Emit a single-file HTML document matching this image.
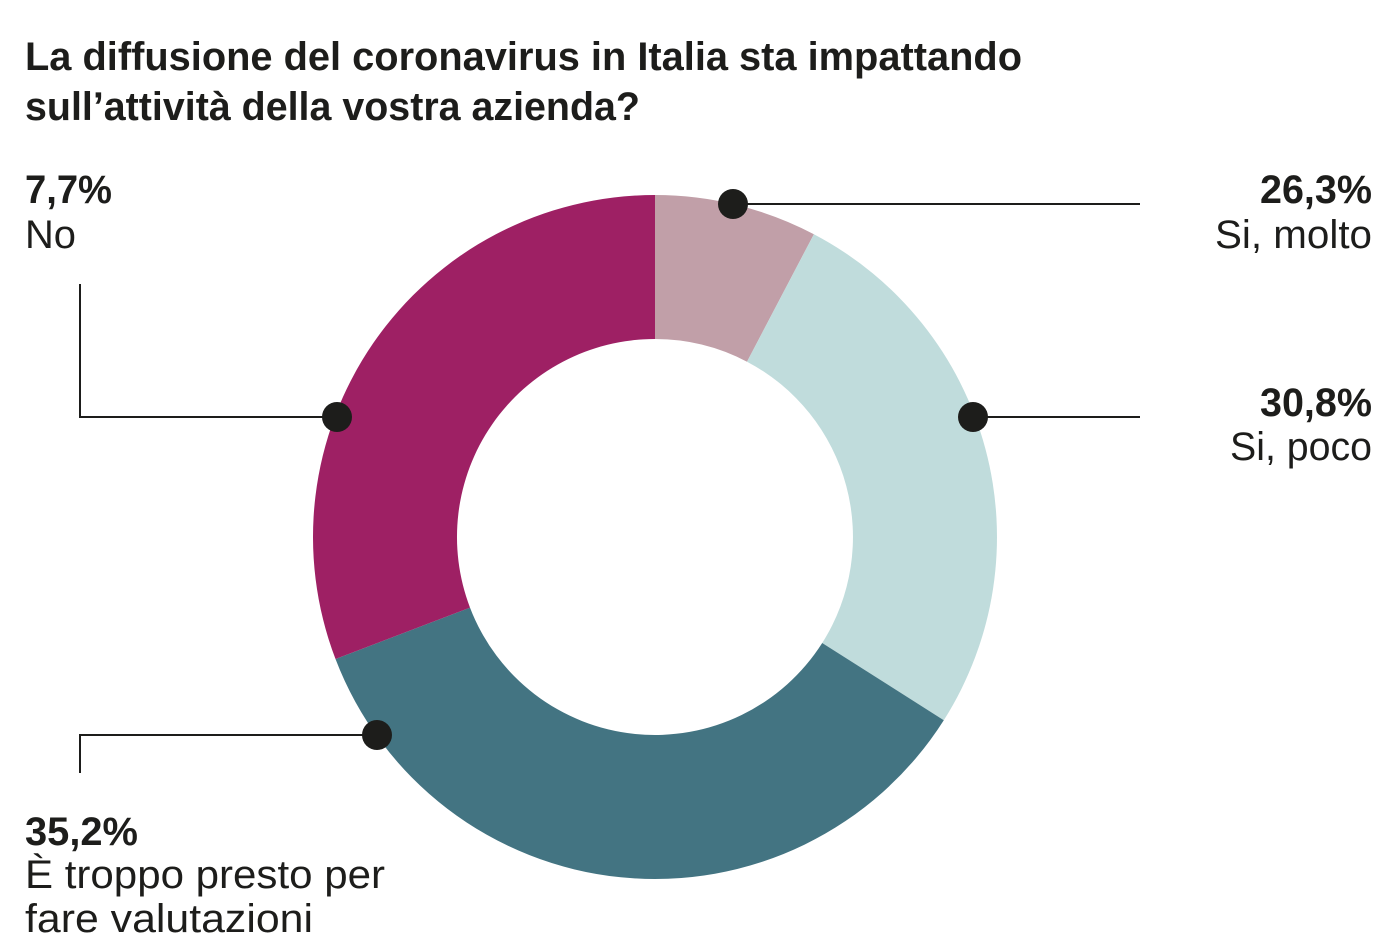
<!DOCTYPE html>
<html><head><meta charset="utf-8"><style>html,body{margin:0;padding:0;background:#fff}svg{display:block}</style></head>
<body>
<svg width="1400" height="950" viewBox="0 0 1400 950" xmlns="http://www.w3.org/2000/svg" font-family="'Liberation Sans Narrow','Liberation Sans',sans-serif" fill="#1d1d1b">
<rect width="1400" height="950" fill="#fff"/>
<text x="25" y="70" font-size="40" font-weight="bold" textLength="997" lengthAdjust="spacingAndGlyphs">La diffusione del coronavirus in Italia sta impattando</text>
<text x="25" y="120" font-size="40" font-weight="bold" textLength="615" lengthAdjust="spacingAndGlyphs">sull’attività della vostra azienda?</text>
<g transform="translate(655,537)">
<path d="M0,-342 A342,342 0 0 1 158.9,-302.8 L92,-175.3 A198,198 0 0 0 0,-198 Z" fill="#c19fa8"/>
<path d="M158.9,-302.8 A342,342 0 0 1 288.8,183.2 L167.2,106 A198,198 0 0 0 92,-175.3 Z" fill="#c0dcdc"/>
<path d="M288.8,183.2 A342,342 0 0 1 -319.5,122 L-185,70.6 A198,198 0 0 0 167.2,106 Z" fill="#437482"/>
<path d="M-319.5,122 A342,342 0 0 1 0,-342 L0,-198 A198,198 0 0 0 -185,70.6 Z" fill="#9e2064"/>
</g>
<g stroke="#1d1d1b" stroke-width="2" fill="none">
<path d="M733,204 H1140"/><path d="M973,417 H1140"/>
<path d="M337,417 H80 V284"/><path d="M377,735 H80 V773"/>
</g>
<g fill="#1d1d1b"><circle cx="733" cy="204" r="15"/><circle cx="973" cy="417" r="15"/><circle cx="337" cy="417" r="15"/><circle cx="377" cy="735" r="15"/></g>
<g font-size="40">
<text x="25" y="203" font-weight="bold" textLength="87" lengthAdjust="spacingAndGlyphs">7,7%</text>
<text x="25" y="248" textLength="51" lengthAdjust="spacingAndGlyphs">No</text>
<text x="1260" y="203" font-weight="bold" textLength="112" lengthAdjust="spacingAndGlyphs">26,3%</text>
<text x="1215" y="248" textLength="157" lengthAdjust="spacingAndGlyphs">Si, molto</text>
<text x="1260" y="416" font-weight="bold" textLength="112" lengthAdjust="spacingAndGlyphs">30,8%</text>
<text x="1230" y="460" textLength="142" lengthAdjust="spacingAndGlyphs">Si, poco</text>
<text x="25" y="845" font-weight="bold" textLength="113" lengthAdjust="spacingAndGlyphs">35,2%</text>
<text x="25" y="888" textLength="360" lengthAdjust="spacingAndGlyphs">È troppo presto per</text>
<text x="25" y="932" textLength="288" lengthAdjust="spacingAndGlyphs">fare valutazioni</text>
</g>
</svg>
</body></html>
